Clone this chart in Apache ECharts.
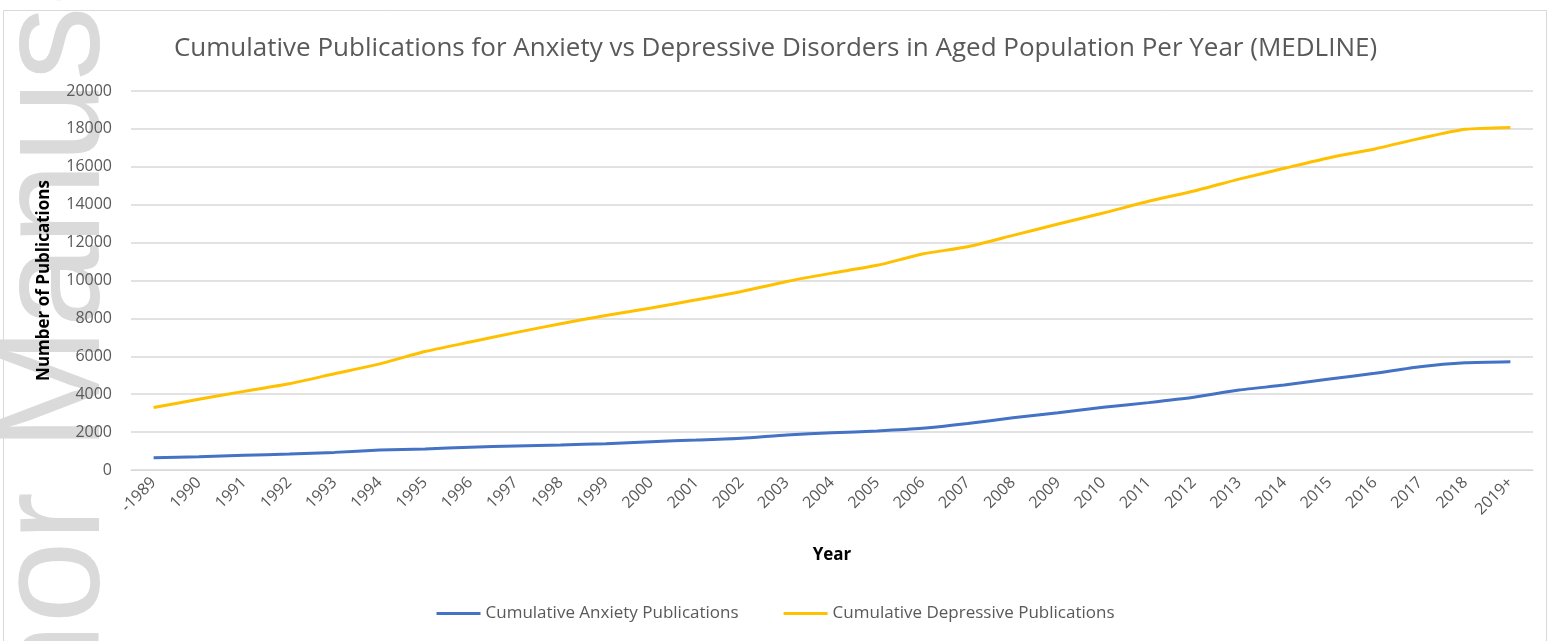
<!DOCTYPE html>
<html>
<head>
<meta charset="utf-8">
<script src="https://cdn.jsdelivr.net/npm/echarts@6/dist/echarts.min.js"></script>
<style>
  html, body { margin: 0; padding: 0; background: #fff; }
  #chart { width: 1551px; height: 641px; }
</style>
</head>
<body>
<div id="chart"></div>
<script>
// Publication years (first bucket holds everything up to 1989, last is 2019 onward)
const years = ['-1989', '1990', '1991', '1992', '1993', '1994', '1995', '1996', '1997', '1998',
  '1999', '2000', '2001', '2002', '2003', '2004', '2005', '2006', '2007', '2008',
  '2009', '2010', '2011', '2012', '2013', '2014', '2015', '2016', '2017', '2018', '2019+'];

// Cumulative MEDLINE counts
const anxietyPubs = [650, 700, 775, 845, 930, 1050, 1110, 1200, 1265, 1320,
  1390, 1495, 1580, 1670, 1850, 1960, 2060, 2200, 2450, 2760,
  3025, 3310, 3555, 3835, 4220, 4480, 4800, 5100, 5450, 5660, 5715];

const depressivePubs = [3300, 3730, 4150, 4550, 5080, 5600, 6250, 6750, 7250, 7720,
  8150, 8550, 8980, 9420, 9950, 10390, 10800, 11400, 11780, 12380,
  12980, 13560, 14180, 14720, 15350, 15920, 16480, 16940, 17500, 17980, 18080];

const chartTitle = 'Cumulative Publications for Anxiety vs Depressive Disorders in Aged Population Per Year (MEDLINE)';
const seriesNames = ['Cumulative Anxiety Publications', 'Cumulative Depressive Publications'];

const FONT = '"Open Sans", "Liberation Sans", sans-serif';
const GREY_TEXT = '#595959';

const chart = echarts.init(document.getElementById('chart'), null, { renderer: 'canvas' });

chart.setOption({
  animation: false,
  backgroundColor: '#ffffff',
  textStyle: { fontFamily: FONT },
  title: {
    text: chartTitle,
    left: 'center',
    top: 31,
    textStyle: { fontFamily: FONT, fontSize: 26, fontWeight: 'normal', color: GREY_TEXT }
  },
  graphic: [
    {
      type: 'rect',
      z: -10,
      shape: { x: 3.5, y: 10.5, width: 1543, height: 660 },
      style: { fill: 'none', stroke: '#d9d9d9', lineWidth: 1 }
    },
    {
      // faint vertical watermark along the left edge
      type: 'text',
      z: -5,
      x: 58,
      y: 928,
      rotation: Math.PI / 2,
      style: {
        text: 'Author Manuscript',
        fontSize: 148,
        fontFamily: '"Liberation Sans", Arial, sans-serif',
        fill: '#dadada',
        align: 'left',
        verticalAlign: 'middle'
      }
    }
  ],
  legend: {
    bottom: 14,
    left: 'center',
    itemWidth: 44,
    itemHeight: 3,
    itemGap: 45,
    icon: 'rect',
    textStyle: { fontFamily: FONT, fontSize: 17, color: GREY_TEXT },
    data: seriesNames
  },
  grid: { left: 131, right: 18, top: 91, bottom: 171, containLabel: false },
  xAxis: {
    type: 'category',
    data: years,
    boundaryGap: true,
    name: 'Year',
    nameLocation: 'middle',
    nameGap: 77,
    nameTextStyle: { fontFamily: FONT, fontSize: 17, fontWeight: 'bold', color: '#000' },
    axisLine: { show: true, lineStyle: { color: '#d9d9d9', width: 1 } },
    axisTick: { show: false },
    axisLabel: { rotate: 45, fontSize: 16, color: GREY_TEXT, margin: 10, interval: 0, fontFamily: FONT }
  },
  yAxis: {
    type: 'value',
    min: 0,
    max: 20000,
    interval: 2000,
    name: 'Number of Publications',
    nameLocation: 'middle',
    nameGap: 78,
    nameTextStyle: { fontFamily: FONT, fontSize: 17, fontWeight: 'bold', color: '#000' },
    axisLine: { show: false },
    axisTick: { show: false },
    axisLabel: {
      fontSize: 16,
      color: GREY_TEXT,
      margin: 19,
      fontFamily: FONT,
      formatter: (v) => String(v)
    },
    splitLine: { show: true, lineStyle: { color: '#d9d9d9', width: 1.5 } }
  },
  series: [
    {
      name: seriesNames[0],
      type: 'line',
      data: anxietyPubs,
      symbol: 'none',
      smooth: 0.2,
      lineStyle: { color: '#4472C4', width: 3 },
      itemStyle: { color: '#4472C4' }
    },
    {
      name: seriesNames[1],
      type: 'line',
      data: depressivePubs,
      symbol: 'none',
      smooth: 0.2,
      lineStyle: { color: '#FFC000', width: 3 },
      itemStyle: { color: '#FFC000' }
    }
  ]
});
</script>
</body>
</html>
